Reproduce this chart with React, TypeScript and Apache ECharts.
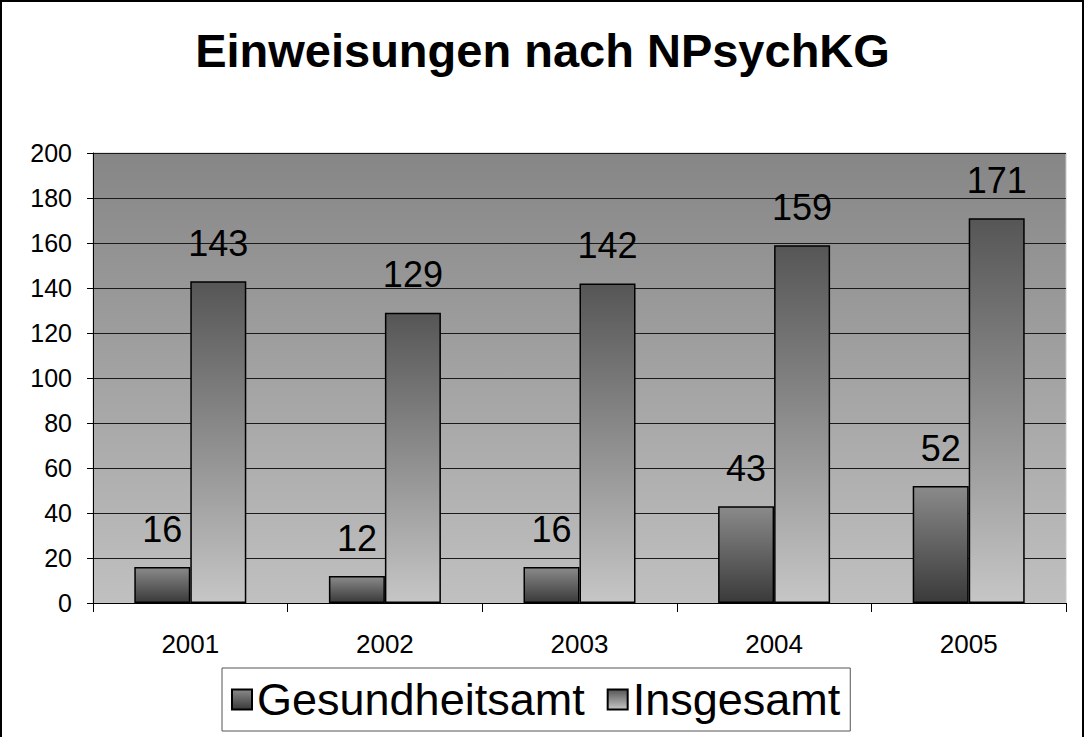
import React, { useEffect, useRef } from "react";
import * as echarts from "echarts";

const title = "Einweisungen nach NPsychKG";
const categories = ["2001", "2002", "2003", "2004", "2005"];
const gesundheitsamt = [16, 12, 16, 43, 52];
const insgesamt = [143, 129, 142, 159, 171];
const seriesNames = ["Gesundheitsamt", "Insgesamt"];

const FONT = "'Liberation Sans', Arial, Helvetica, sans-serif";

const grad = (top: string, bottom: string) =>
  new echarts.graphic.LinearGradient(0, 0, 0, 1, [
    { offset: 0, color: top },
    { offset: 1, color: bottom },
  ]);

export default function App() {
  const ref = useRef<HTMLDivElement>(null);
  useEffect(() => {
    document.body.style.margin = "0";
    if (!ref.current) return;
    const chart = echarts.init(ref.current, null, { renderer: "svg" });
    const label = {
      show: true,
      position: "top",
      distance: 20,
      fontSize: 36,
      color: "#000",
      fontFamily: FONT,
    };
    const gesColor = grad("#8a8a8a", "#3a3a3a");
    const insColor = grad("#565656", "#c6c6c6");
    chart.setOption({
      animation: false,
      backgroundColor: "#fff",
      textStyle: { fontFamily: FONT },
      title: {
        text: title,
        left: "center",
        top: 22,
        textStyle: { fontSize: 47, fontWeight: "bold", color: "#000", fontFamily: FONT },
      },
      graphic: [
        {
          type: "rect",
          shape: { x: 1, y: 1, width: 1082, height: 740 },
          style: { fill: "none", stroke: "#000", lineWidth: 2 },
          silent: true,
          z: 100,
        },
      ],
      legend: {
        data: [
          { name: seriesNames[0], icon: "rect", itemStyle: { color: gesColor, borderColor: "#000", borderWidth: 2 } },
          { name: seriesNames[1], icon: "rect", itemStyle: { color: insColor, borderColor: "#000", borderWidth: 2 } },
        ],
        left: 222,
        top: 668,
        itemWidth: 20,
        itemHeight: 20,
        itemGap: 22,
        padding: [9, 10, 9, 9],
        borderColor: "#555",
        borderWidth: 1,
        textStyle: { fontSize: 45, color: "#000", fontFamily: FONT },
      },
      grid: {
        left: 93,
        right: 19,
        top: 153,
        bottom: 134,
        show: true,
        backgroundColor: grad("#868686", "#c0c0c0"),
        borderColor: "#c8c8c8",
        borderWidth: 1,
      },
      xAxis: {
        type: "category",
        data: categories,
        axisLine: { lineStyle: { color: "#000", width: 1 } },
        axisTick: { show: true, alignWithLabel: false, length: 9, lineStyle: { color: "#000" } },
        axisLabel: { fontSize: 26, color: "#000", margin: 28, fontFamily: FONT },
      },
      yAxis: {
        type: "value",
        min: 0,
        max: 200,
        interval: 20,
        axisLine: { show: true, lineStyle: { color: "#000", width: 1 } },
        axisTick: { show: true, length: 6, lineStyle: { color: "#000" } },
        axisLabel: { fontSize: 25, color: "#000", margin: 21, fontFamily: FONT },
        splitLine: { show: true, lineStyle: { color: "#1a1a1a", width: 1 } },
      },
      series: [
        {
          name: seriesNames[0],
          type: "bar",
          data: gesundheitsamt,
          barWidth: 56,
          barGap: "0%",
          itemStyle: { color: gesColor, borderColor: "#000", borderWidth: 1.5 },
          label,
        },
        {
          name: seriesNames[1],
          type: "bar",
          data: insgesamt,
          barWidth: 56,
          barGap: "0%",
          itemStyle: { color: insColor, borderColor: "#000", borderWidth: 1.5 },
          label,
        },
      ],
    });
    return () => chart.dispose();
  }, []);
  return <div ref={ref} style={{ width: 1085, height: 737 }} />;
}
